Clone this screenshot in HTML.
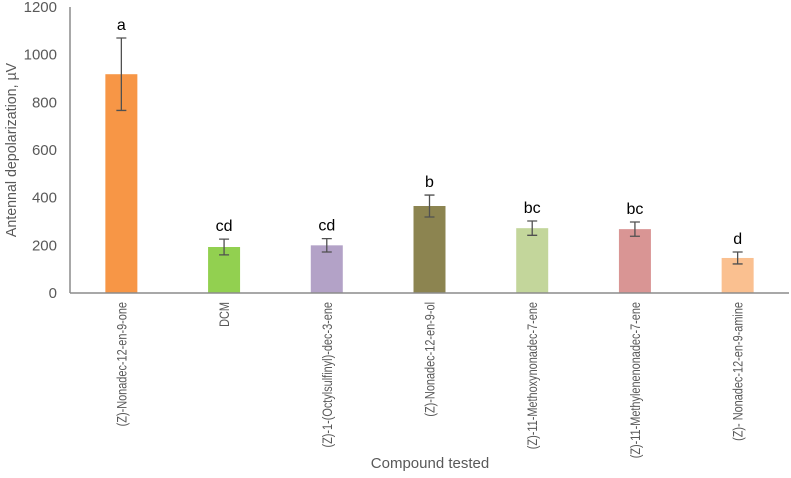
<!DOCTYPE html>
<html><head><meta charset="utf-8"><style>
body{margin:0;background:#fff;}
svg text{font-family:"Liberation Sans",sans-serif;}
</style></head><body>
<svg id="chart" width="791" height="473" viewBox="0 0 791 473" xmlns="http://www.w3.org/2000/svg"></svg>
<script>
const categories=["(Z)-Nonadec-12-en-9-one","DCM","(Z)-1-(Octylsulfinyl)-dec-3-ene","(Z)-Nonadec-12-en-9-ol","(Z)-11-Methoxynonadec-7-ene","(Z)-11-Methylenenonadec-7-ene","(Z)- Nonadec-12-en-9-amine"];
const values=[918,193,200,365,272,268,147];
const errors=[152,33,28,46,30,30,25];
const letters=["a","cd","cd","b","bc","bc","d"];
const colors=["#F79646","#92D050","#B3A2C7","#8C8450","#C3D69B","#D99594","#FAC090"];
const yTicks=[0,200,400,600,800,1000,1200];
const NS="http://www.w3.org/2000/svg";
const svg=document.getElementById('chart');
const x0=70,x1=789,yZero=293,yTop=7,ymax=1200;
const yS=v=>yZero-(v/ymax)*(yZero-yTop);
const bw=(x1-x0)/categories.length;
const xC=i=>x0+bw*(i+0.5);
function mk(t,a){const e=document.createElementNS(NS,t);for(const k in a)e.setAttribute(k,a[k]);svg.appendChild(e);return e;}
let ax=mk('line',{x1:x0,y1:yTop,x2:x0,y2:yZero,stroke:'#8c8c8c','stroke-width':1.5});


yTicks.forEach(v=>{
 const t=mk('text',{x:x0-13,y:yS(v)+5,'text-anchor':'end','font-size':15,fill:'#595959'});
 t.textContent=v;
 
 
});
categories.forEach((c,i)=>{
 const cx=xC(i),w=32;
 const r=mk('rect',{x:cx-w/2,y:yS(values[i]),width:w,height:yZero-yS(values[i]),fill:colors[i]});
 
 
 const hi=yS(values[i]+errors[i]),lo=yS(values[i]-errors[i]);
 const g=mk('path',{d:`M${cx},${hi}V${lo}M${cx-5},${hi}H${cx+5}M${cx-5},${lo}H${cx+5}`,stroke:'#505050','stroke-width':1.3,fill:'none'});
 
 
 const l=mk('text',{x:cx,y:hi-8,'text-anchor':'middle','font-size':16,fill:'#000'});
 l.textContent=letters[i];
 
 
 const xl=mk('text',{x:0,y:0,'text-anchor':'end','font-size':14,fill:'#595959',transform:`translate(${cx+5},${yZero+9}) rotate(-90) scale(0.78,1)`});
 xl.textContent=c;
 
 
});
let xa=mk('line',{x1:x0,y1:yZero,x2:x1,y2:yZero,stroke:'#8c8c8c','stroke-width':1.5});


let yt=mk('text',{x:0,y:0,'text-anchor':'middle','font-size':15,fill:'#595959',transform:`translate(16,${(yTop+yZero)/2}) rotate(-90) scale(0.95,1)`});
yt.textContent='Antennal depolarization, µV';


let xt=mk('text',{x:430,y:468,'text-anchor':'middle','font-size':15,fill:'#595959'});
xt.textContent='Compound tested';


</script>
</body></html>
